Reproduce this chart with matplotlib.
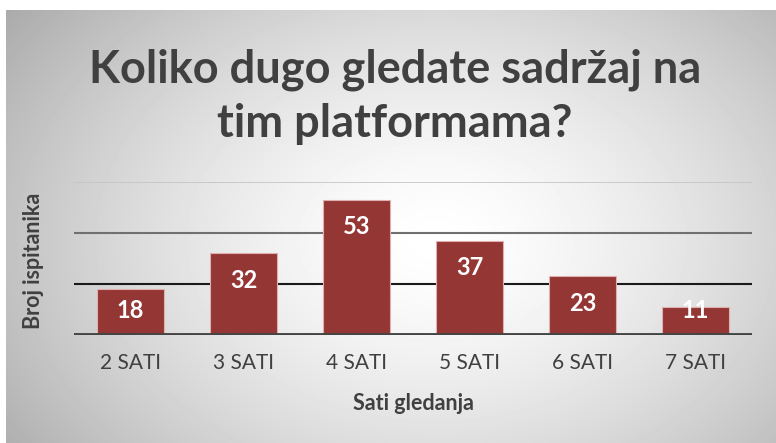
import numpy as np
import matplotlib.pyplot as plt

categories = ["2 SATI", "3 SATI", "4 SATI", "5 SATI", "6 SATI", "7 SATI"]
values = [18, 32, 53, 37, 23, 11]
title = "Koliko dugo gledate sadržaj na\ntim platformama?"
xlabel = "Sati gledanja"
ylabel = "Broj ispitanika"

bar_color = "#943634"
text_color = "#404040"
font = "Lato"

W, H = 776, 443
fig = plt.figure(figsize=(W / 100, H / 100), dpi=100)
fig.patch.set_facecolor("white")

# radial gradient background (frame starts a few px in from top/left)
bg = fig.add_axes([6 / W, 0, 1 - 6 / W, 1 - 10 / H])
yy, xx = np.mgrid[0:433, 0:770]
r = np.sqrt(((xx - 430) / 500.0) ** 2 + ((yy - 230) / 360.0) ** 2)
shade = 1.0 - 0.3 * np.clip(r, 0, 1.2) ** 1.5
bg.imshow(shade, cmap="gray", vmin=0, vmax=1, aspect="auto", interpolation="bilinear")
bg.axis("off")

ax = fig.add_axes([74 / W, (H - 335) / H, 678 / W, 153 / H])
ax.patch.set_alpha(0)
x = np.arange(len(categories))

ax.set_xlim(-0.5, len(categories) - 0.5)
ax.set_ylim(0, 60)
grid_styles = {60: ("#c4c4c4", 1.2), 40: ("#707070", 1.5), 20: ("#1a1a1a", 1.5)}
for yv, (c, lw) in grid_styles.items():
    ax.axhline(yv, color=c, lw=lw, zorder=1)
ax.axhline(0, color="#444444", lw=3.5, zorder=3)

ax.bar(x, values, width=0.6, color=bar_color, edgecolor="#e0b0b0", linewidth=0.8, zorder=2)
for xi, v in zip(x, values):
    off = min(10.5, max(v - 9.5, 1.5))
    ax.text(xi, v - off, str(v), ha="center", va="center", color="white",
            fontsize=17, fontweight="bold", family=font, zorder=4)

ax.set_xticks(x)
ax.set_xticklabels(categories, fontsize=15, color=text_color, family=font)
ax.set_yticks([])
ax.tick_params(axis="x", length=0, pad=13)
for s in ax.spines.values():
    s.set_visible(False)

ax.set_xlabel(xlabel, fontsize=15.5, fontweight="bold", color=text_color, family=font, labelpad=14)
fig.text(33 / W, 1 - 261 / H, ylabel, rotation=90, ha="center", va="center",
         fontsize=15.5, fontweight="bold", color=text_color, family=font)

fig.text(395 / W, 1 - 97 / H, title, ha="center", va="center", fontsize=32.5,
         fontweight="bold", color=text_color, family=font, linespacing=1.35)

fig.savefig("out.png", dpi=100)
